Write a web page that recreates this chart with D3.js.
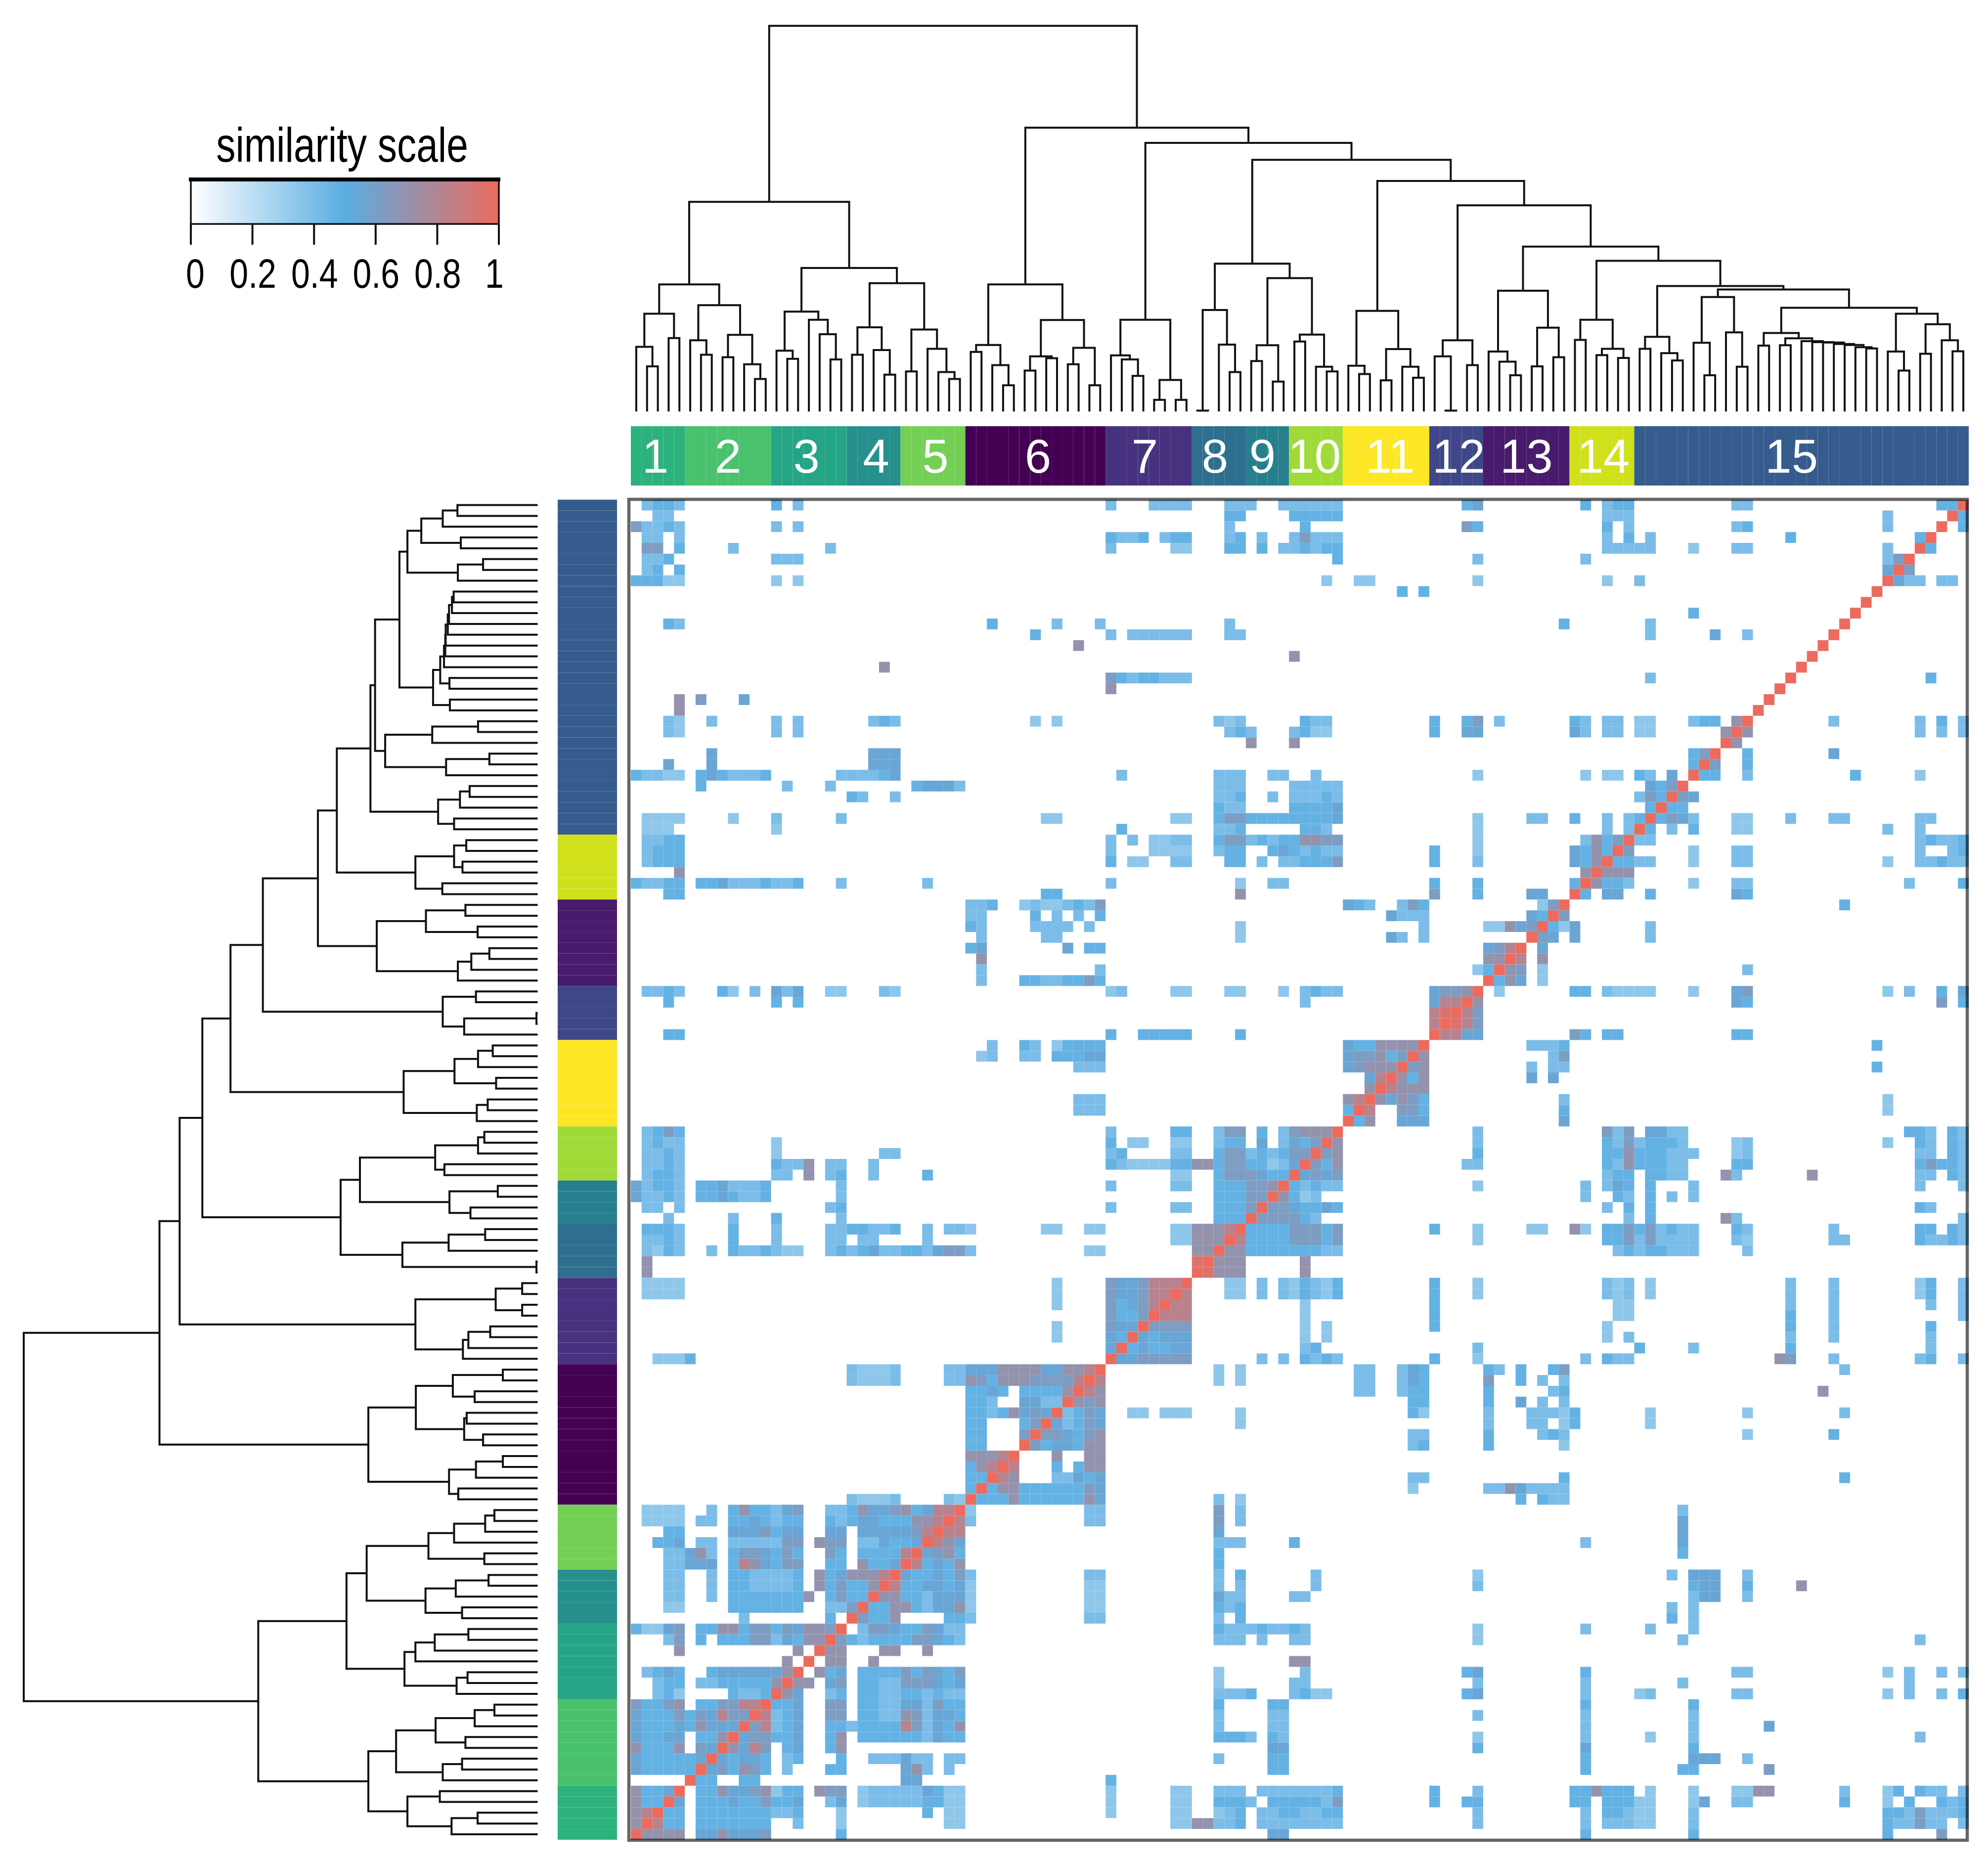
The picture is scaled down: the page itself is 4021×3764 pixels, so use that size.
<!DOCTYPE html>
<html><head><meta charset="utf-8">
<script src="https://cdn.jsdelivr.net/npm/d3@7/dist/d3.min.js"></script>
<style>html,body{margin:0;padding:0;background:#fff}svg{display:block}text{font-family:"Liberation Sans",Arial,sans-serif}</style>
</head><body><svg id="c" width="4021" height="3764"></svg>
<script>
// ---------- DATA ----------
const clusterNames = ["1","2","3","4","5","6","7","8","9","10","11","12","13","14","15"];
const clusterSizes = [5,8,7,5,6,13,8,5,4,5,8,5,8,6,31];
const clusterColors = ["#2DB27D","#4AC16D","#25A585","#26908D","#73D055","#440154","#46327E","#2E6E8E","#277F8E","#A0DA39","#FDE725","#3F4788","#481B6D","#D0E11C","#365C8D"];
const legendTicks = [0,0.2,0.4,0.6,0.8,1];
const colorStops = [0,0.5,1];
const colorValues = ["#FFFFFF","#5AADE2","#EC6B5E"];
// similarity levels used by the cell readings
const levels = {a:.34,b:.40,c:.47,d:.55,e:.62,f:.70,g:.82,h:.94};
// upper-left half of the symmetric similarity matrix: one entry per row, top to bottom; "col" or "from-to" + level
const simRows = [
"1b 2-3c 4b 13c 15b 44b 48-51b 55-57b 60-65b 77c 78d 88c 90b 91-92c 102-103b 121-122c",
"2-3b 55-56c 61-65c 90-92b 116b",
"0e 1-2b 3c 4b 13b 15b 55b 62c 77e 78c 90c 92b 102b 103c 116b",
"1-2b 4b 44c 45-46b 47c 49b 50-51c 55b 56c 58b 61b 62e 63-65b 90b 92c 94b 107c 119c",
"1-2e 4c 9b 18b 44b 50-51a 55-56c 58c 60-61b 62c 63b 64-65c 90-94b 98a 102-103b 116b",
"1-2b 3c 13-15b 65c 78b 88b 116b 117e",
"1b 2c 4c 116d",
"0-2c 3-4a 13a 15a 64a 67-68a 78a 90a 93b",
"71c 73c",
"",
"98c",
"3c 4b 33c 39b 43b 55b 86c 94b",
"37c 44b 46-51b 55-56b 94b 100d 103b",
"41f",
"61f",
"23f",
"44e 45c 46b 47-48c 49-51b 94b",
"44f",
"4f 6e 10d",
"4f",
"3b 4a 7b 13b 15b 22b 23c 24b 37a 39a 54b 55a 56b 62c 63-64b 74c 77c 78e 80b 87c 88b 90-91b 93-94a 98b 99-100c 102f",
"3b 4a 13b 15b 55b 56c 57b 61b 62c 63-64a 74c 77-78d 87d 88b 90-91b 93-94a 101f",
"57f 61f",
"7d 22-24d 98c 99e",
"3d 7d 22-24d 98c",
"0c 1-2b 3-4a 6c 7d 8c 9-11b 12c 19-22b 23c 24d 45b 54-56b 59-60b 63b 78a 88a 90-91a 93c 94b 96d",
"6c 14b 18b 26c 27-29d 30b 54-56b 61-65b 94d 95c 96e",
"20c 21b 24b 54-55b 56c 59b 61-62b 63b 64c 65b 93b 94e 95c",
"54c 55-56b 61-64c 65d 94c",
"1-4a 9a 13b 19b 38-39a 50-51a 54c 55-56e 57-64c 65d 78a 83-84b 87c 90b 92b 93c",
"1-3a 13a 45c 54-55b 56c 62-63c 64b 78a 90b 92b",
"1-2b 3-4c 44b 46b 48-49a 50-51b 54c 55-56e 57b 58c 59b 60-61c 62-63f 64-65e 78a 88b 89f 90c 91e",
"1b 2-4c 44b 48-51a 54b 55-56c 59c 60d 61c 62b 63c 64-65b 74c 78a 87d 88c 89f 90c",
"1b 2-4c 44c 46-47a 50-51b 55-56c 58b 60-61b 62-64c 65e 74c 78b 87d 88c 89f",
"4f 88f",
"0c 1-2b 3-4c 6-7c 8d 9-11b 12c 13-14b 15c 19b 27b 44b 56a 59-60b 74c 78c 87c",
"3-4c 38-39c 56f 74e 78c 83-84d",
"31-32b 33c 36a 37b 38-39a 40b 41c 42b 43e 66d 67c 68b 71b 72e 73c 84a 85e",
"31-32b 37c 39b 41b 43c 70d 71-73b 83d 84c",
"31c 32b 37-40b 42b 56a 73b 79-80a 81f 82d 83e",
"32b 38-39b 56a 70d 71b 73b",
"31c 32d 40d 42-43c 79d 80e 81g",
"32f 79-80f",
"32b 43b 78a 79c",
"32b 36-37c 38-39b 40-41c 42e 43c",
"1-2b 3c 4b 8c 9a 11b 13d 14b 15d 18-19a 23b 24a 44a 45b 50-51a 55-56a 60a 62b 63c 64-65b 74d 75-76e 77f",
"3c 13c 15c 62b 74d 75-76g",
"74g 75h",
"74g",
"3-4c 44c 47-51c 56c",
"33b 36c 37b 39a 40-43c 66d 67-68c 69-72f",
"32a 33b 36-37b 39-41c 42-43d 66d 67-68e 69f 70c 71e",
"41-43b 66d 67e 68-70f",
"68d 69g",
"68f",
"41-43b 66f 67g",
"41-43b 66c",
"",
"1b 2c 3e 4c 44b 50-51c 54b 55-56e 58c 60b 61e 62-64f",
"1b 2c 3-4b 13a 44c 46-47a 50-51a 54b 55-56c 58d 60b 61d 62c 63e",
"1-2b 3c 4b 13a 23-24b 44b 45c 50-51b 54c 55-56e 57b 58c 59b 60c 61-62e",
"1-2b 3c 4b 13c 14-15b 16f 18-19b 22b 44c 45b 46-49a 50-51c 52-53f 54c 55-56e 57-58c 59a 60b 61d",
"1b 2-3c 4b 13-14b 16f 18b 19c 22b 27c 50-51a 54c 55-57e 58d 59-60c",
"0d 1b 2-3c 4b 6-7c 8d 9-11b 12c 19b 44b 50-51b 54-56c 57-58e 59f",
"0d 1-2b 3c 4b 6-7c 8d 9c 10-11b 12c 19b 54-56c 57-58e",
"1-2b 4b 18b 19c 44b 50-51b 54-56c 57e",
"3b 9b 13c 19b 54-56c",
"1-3c 4b 9c 13b 18-19b 20-21c 22-23b 24c 27b 29-30b 31a 38-39a 42-43a 50-51a 52-54f 55g",
"1-2b 3c 4b 9c 13b 18-19b 21-22b 27b 50-51a 52-54f",
"1b 2a 3c 4b 7b 9c 10-11b 12c 13b 14-15a 18b 19c 20b 21c 22d 23-24b 25-26c 27b 28d 29-30e 31b 42-43a 52-53f",
"1f 52h",
"1f",
"1-4a 39a 44e 45-46d 47e 48-50g",
"1-4a 39a 44e 45-46d 47e 48-49g",
"39a 44e 45c 46d 47e 48g",
"44e 45-46c 47e",
"39a 44e 45-46d",
"39a 44d 45c",
"44d",
"2-4a 5c",
"20b 21-23a 24b 29-30b 31-33d 34-37f 38-39d 40-41f 42g",
"20b 21-23a 24b 29-30b 31f 32e 33c 34-36f 37-40e 41g",
"31-32c 33d 34c 36-39c 40f",
"31-32c 33b 36-37d 38-39b",
"31-32c 33b 34c 35f 36d 37e 38d",
"31-32c 36c 37e",
"31-32c 36e",
"31-32c",
"31-33f 34g",
"31c 32f 33g",
"31-32c",
"31c",
"20b 21-23a 24b 29b 30a",
"1-4a 7b 9c 10f 11-12c 13b 14d 15e 18-19b 20c 21f 22-23d 24e 25f 26c 27d 28-29g",
"1-4a 6-7b 9-10c 11d 12c 13b 14-15c 18c 19b 20c 21-22d 23-25c 26-27f 28g",
"3-4c 9-11d 12e 13c 14-15d 18-19d 21-25d 26e 27g",
"2-3c 4d 6-7b 9-13b 14-15e 17f 18-19e 21-22b 23d 24-25c 26d",
"3-4b 5d 6f 7b 9c 10-11e 12d 13c 14e 15c 18e 19c 21-24c 25g",
"3-4b 5-7d 9c 10g 11f 12d 13c 14-15e 18-19c 21f 22-23c 24d",
"3-4b 7b 9-10c 11-14b 15c 17f 18c 19d 20-22f 23g",
"3-4b 7b 9-10c 11-14b 15c 17f 18c 19e 20-21c 22f",
"3-4b 7b 9-15c 16f 18c 19e 20-21c",
"3-4a 9-15c 18-19b 20e",
"10b 18c",
"0c 1-2a 3d 4e 6-7c 8-9f 10c 11-12e 13c 14e 15d 16-17f 18e",
"3b 4e 6c 8-10c 11-12e 13b 14d 15c 16-17f",
"4f 15f",
"14f",
"1b 2c 3d 4c 7c 8-13d 14f",
"2b 3-4c 6-7b 8-12c 13f",
"2b 3c 4a 9c 10-11b 12c",
"0e 1-2c 3e 4f 6-7c 8-9e 10-11g",
"0d 1-3c 4e 5c 6e 7d 8g 9-10e",
"0d 1-3c 4d 5c 6f 7-9d",
"0d 1-2c 3-4d 6-7c 8f",
"0f 1-3c 4f 6e 7d",
"0d 1-5c 6d",
"0d 1-5c",
"",
"0f 1-2c 3d",
"0f 1-2c",
"0f 1g",
"0f",
""
];
// dendrogram: [height, left, right]; 0 = leaf
const c1=[310,[205,0,[143,0,0]],[233,0,0]];
const c2=[337,[226,0,[180,0,0]],[243,[172,0,0],[150,0,[103,0,0]]]];
const c3=[317,[193,0,[167,0,0]],[291,0,[245,0,[165,0,0]]]];
const c4=[267,[180,0,0],[195,0,[117,0,0]]];
const c5=[260,[127,0,0],[199,0,[125,0,[103,0,0]]]];
const c6=[403,[211,[189,0,0],[147,0,[83,0,0]]],[290,[175,[130,0,0],[169,0,0]],[202,[150,0,0],[83,0,0]]]];
const c7=[291,[178,0,[165,0,[113,0,0]]],[100,[37,0,0],[37,0,0]]];
const c8=[322,[3,0,0],[212,0,[125,0,0]]];
const c9=[210,[160,0,0],[95,0,0]];
const c10=[244,[222,0,0],[142,0,[127,0,0]]];
const c11=[319,[145,0,[119,0,0]],[198,[99,0,0],[142,0,[107,0,0]]]];
const c12=[226,[175,0,[3,0,0]],[147,0,0]];
const c13=[383,[190,0,[158,0,[115,0,0]]],[266,[143,0,0],[172,0,0]]];
const c14=[291,[227,0,0],[199,[179,0,0],[170,0,0]]];
const s1=[237,[199,0,0],[185,0,[162,0,0]]];
const s2=[363,[218,0,[115,0,0]],[251,0,[142,0,0]]];
const s3=[249,[209,0,0],[232,[210,0,0],[223,0,[220,0,[219,0,[214,0,[211,0,[204,0,[200,0,0]]]]]]]]];
const s4=[310,[190,0,[130,0,0]],[277,[183,0,0],[226,0,[191,0,0]]]];
const c15b=[387,s2,[329,s3,s4]];
const c15=[398,s1,c15b];
const rightA=[731,c11,[654,c12,[523,c13,[478,c14,c15]]]];
const treeLeft=[665,[403,c1,c2],[455,c3,[407,c4,c5]]];
const treeRight=[900,c6,[852,c7,[798,[469,c8,[423,c9,c10]],rightA]]];
const tree=[1223,treeLeft,treeRight];
const treeMax=1223;

// ---------- LAYOUT ----------
const N=simRows.length;
const svg=d3.select("#c");
svg.append("rect").attr("width",4021).attr("height",3764).attr("fill","#fff");
const idx=d3.range(N);
const xBand=d3.scaleBand().domain(idx).range([1276,3982]);
const yBand=d3.scaleBand().domain(idx).range([1010.6,3721]);
const color=d3.scaleLinear().domain(colorStops).range(colorValues);

// ---------- HEATMAP ----------
const cells=[];
simRows.forEach((s,r)=>{
  for(const m of s.matchAll(/(\d+)(?:-(\d+))?([a-h])/g)){
    const from=+m[1],to=m[2]?+m[2]:from,v=levels[m[3]];
    for(let c=from;c<=to;c++){
      cells.push({r,c,v});
      cells.push({r:N-1-c,c:N-1-r,v});
    }
  }
});
idx.forEach(r=>cells.push({r,c:N-1-r,v:1}));
svg.append("g").selectAll("rect").data(cells).join("rect")
  .attr("x",d=>xBand(d.c)).attr("y",d=>yBand(d.r))
  .attr("width",xBand.bandwidth()).attr("height",yBand.bandwidth())
  .attr("fill",d=>color(d.v));
svg.append("rect").attr("x",1272).attr("y",1010).attr("width",2707).attr("height",2712)
  .attr("fill","none").attr("stroke","#000").attr("stroke-opacity",.6).attr("stroke-width",6.5);

// ---------- COLOUR BARS ----------
const leafCluster=[];
clusterSizes.forEach((n,i)=>{for(let k=0;k<n;k++)leafCluster.push(i)});
svg.append("g").selectAll("rect").data(idx).join("rect")
  .attr("x",d=>xBand(d)).attr("y",862).attr("width",xBand.bandwidth()).attr("height",120)
  .attr("fill",d=>clusterColors[leafCluster[d]]);
svg.append("g").selectAll("rect").data(idx).join("rect")
  .attr("x",1128).attr("y",d=>yBand(d)).attr("width",120).attr("height",yBand.bandwidth())
  .attr("fill",d=>clusterColors[leafCluster[N-1-d]]);
let acc=0;
const labelPos=clusterSizes.map(n=>{const a=acc;acc+=n;return (xBand(a)+xBand(a+n-1)+xBand.bandwidth())/2});
const labelShift=[-5,0,-5,5,5,5,-8,-8,-10,-3,8,5,0,3,-20];
svg.append("g").selectAll("text").data(clusterNames).join("text")
  .attr("x",(d,i)=>labelPos[i]+labelShift[i]).attr("y",956).attr("text-anchor","middle")
  .attr("font-size",96).attr("fill","#fff").text(d=>d);

// ---------- DENDROGRAMS ----------
const root=d3.hierarchy(tree,d=>d?d.slice(1):null);
let leafNo=0;
root.eachAfter(n=>{
  if(!n.children){n.pos=leafNo++;n.h=0;}
  else{n.pos=(n.children[0].pos+n.children[1].pos)/2;n.h=n.data[0];}
});
const internal=root.descendants().filter(n=>n.children);
const topH=d3.scaleLinear().domain([0,treeMax]).range([832.3,52.3]);
const leftH=d3.scaleLinear().domain([0,treeMax]).range([1087.6,48]);
const xLeaf=p=>xBand(0)+(p+.5)*xBand.step();
const yLeaf=p=>yBand(0)+(N-1-p+.5)*yBand.step();
const dendStyle=g=>g.attr("fill","none").attr("stroke","#111").attr("stroke-width",4).attr("stroke-linejoin","miter");
svg.append("g").call(dendStyle).selectAll("path").data(internal).join("path")
  .attr("d",n=>{const [a,b]=n.children;return `M${xLeaf(a.pos)},${topH(a.h)}V${topH(n.h)}H${xLeaf(b.pos)}V${topH(b.h)}`});
svg.append("g").call(dendStyle).selectAll("path").data(internal).join("path")
  .attr("d",n=>{const [a,b]=n.children;return `M${leftH(a.h)},${yLeaf(a.pos)}H${leftH(n.h)}V${yLeaf(b.pos)}H${leftH(b.h)}`});

// ---------- LEGEND ----------
const legendX=d3.scaleLinear().domain([0,1]).range([386,1009]);
const defs=svg.append("defs");
const grad=defs.append("linearGradient").attr("id","lg");
colorStops.forEach((s,i)=>grad.append("stop").attr("offset",s).attr("stop-color",colorValues[i]));
const lg=svg.append("g");
lg.append("rect").attr("x",legendX(0)).attr("y",365).attr("width",legendX(1)-legendX(0)).attr("height",88)
  .attr("fill","url(#lg)").attr("stroke","#111").attr("stroke-width",3.5);
lg.append("line").attr("x1",382).attr("x2",1012).attr("y1",363).attr("y2",363).attr("stroke","#000").attr("stroke-width",8);
const ax=lg.append("g").attr("transform","translate(0,453)")
  .call(d3.axisBottom(legendX).tickValues(legendTicks).tickSize(42).offset(0).tickFormat(d3.format("~g")));
ax.select(".domain").remove();
ax.selectAll("line").attr("stroke","#111").attr("stroke-width",4);
ax.selectAll("text").attr("y",129).attr("dy",0).attr("font-size",83).attr("fill","#000")
  .style("font-family",'"Liberation Sans",Arial,sans-serif')
  .attr("transform",d=>`translate(${d===0?9:d===1?-9:1},0) scale(.82,1)`);
lg.append("text").attr("text-anchor","middle").attr("font-size",98).attr("fill","#000")
  .attr("transform","translate(692,327) scale(.8,1)").text("similarity scale");
</script></body></html>
